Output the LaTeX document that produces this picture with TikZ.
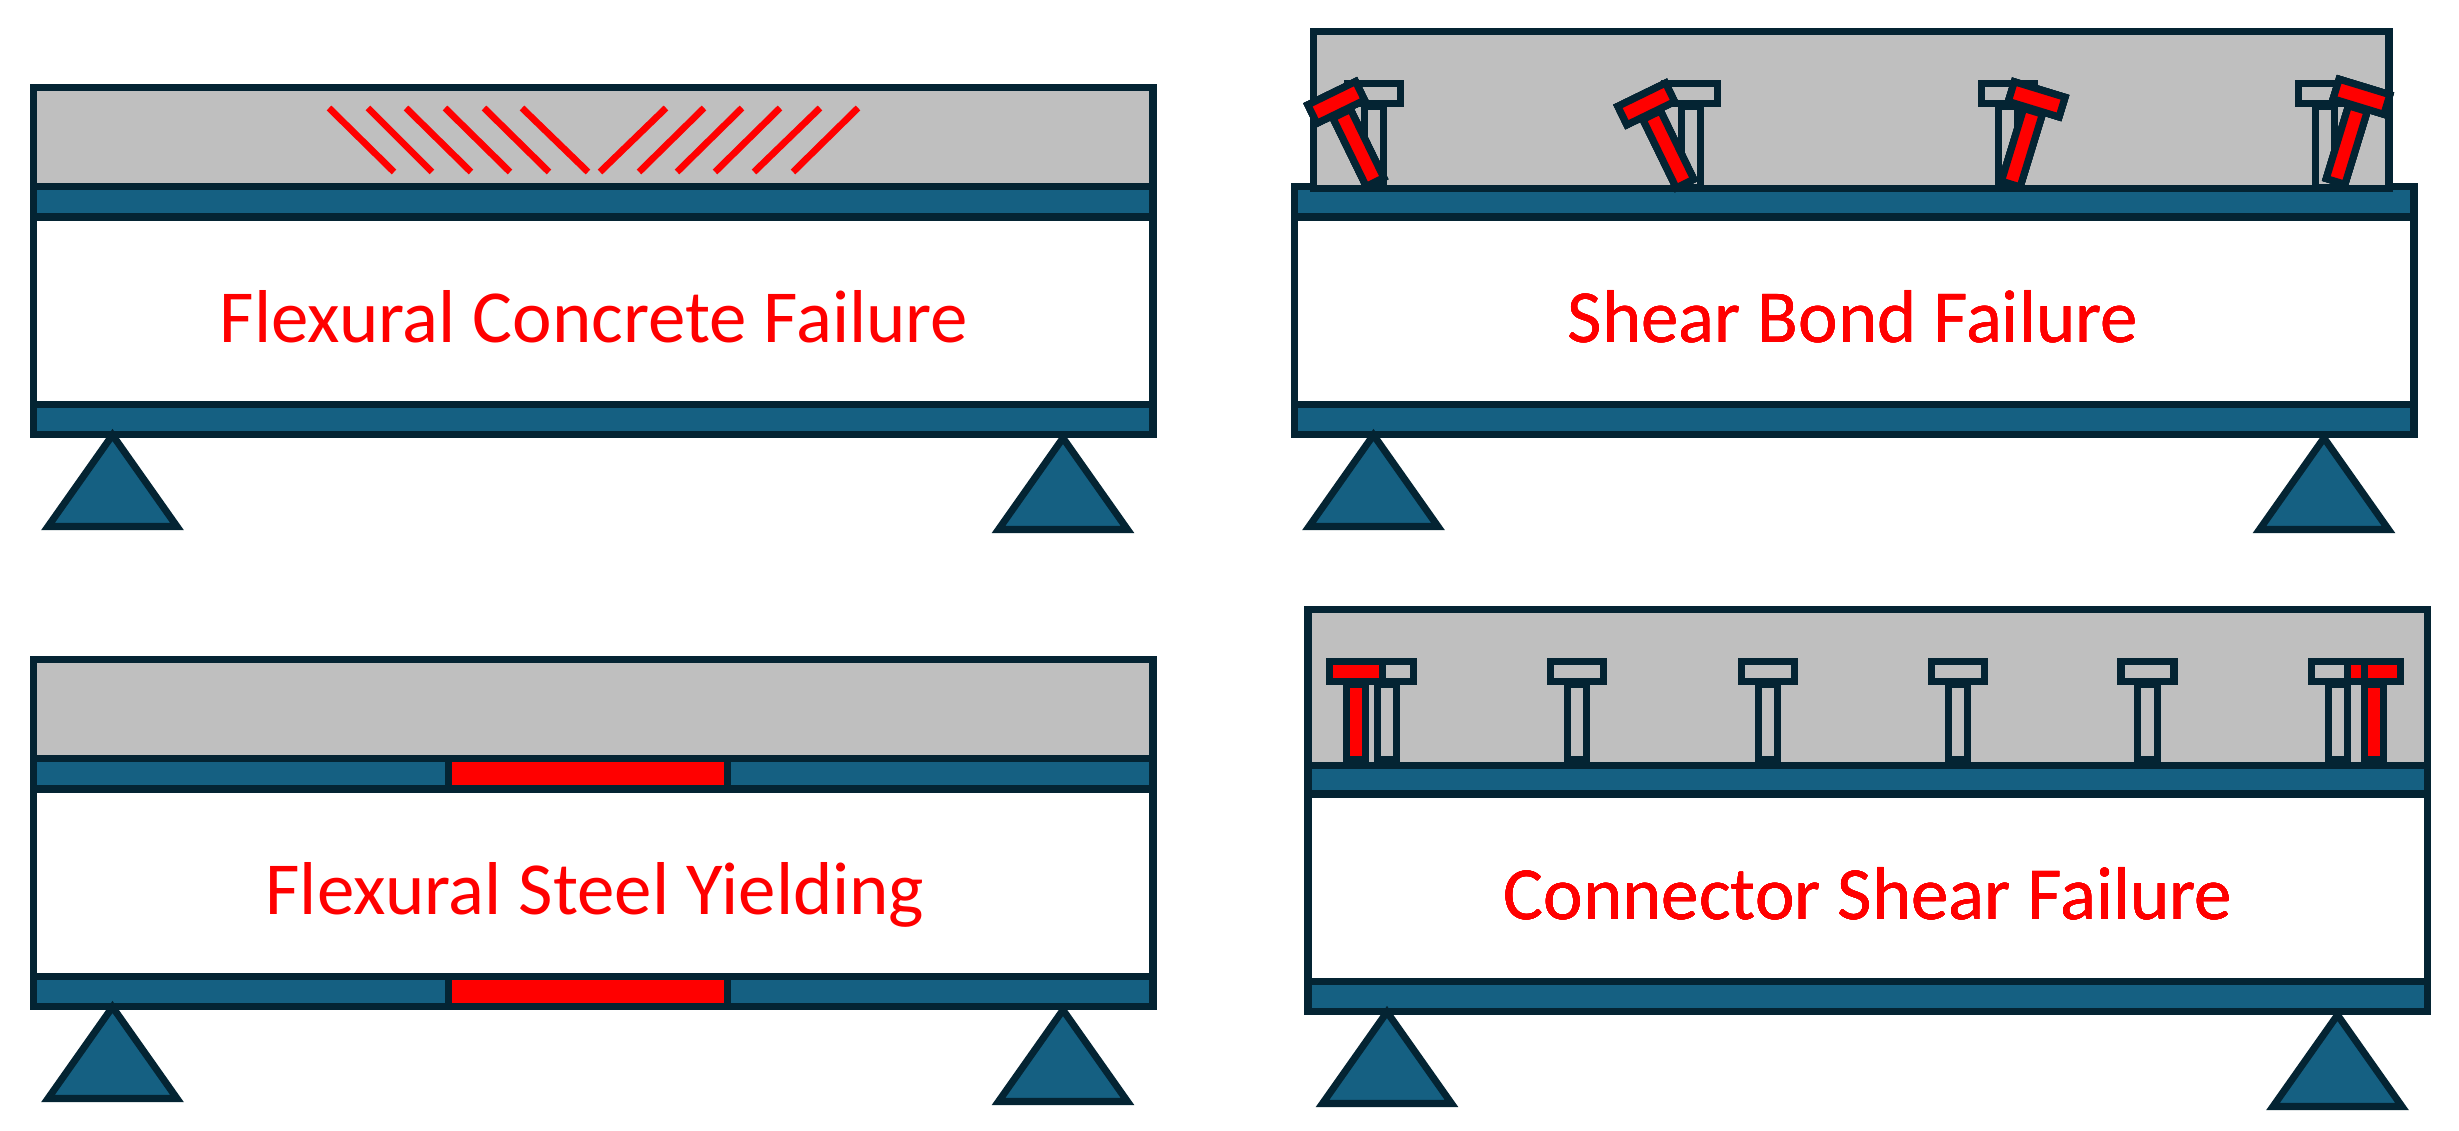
\documentclass[tikz,border=0pt]{standalone}
\usepackage{fontspec}
\setmainfont{Carlito}
\definecolor{steelblue}{HTML}{156082}
\definecolor{darkline}{HTML}{042433}
\definecolor{concrete}{HTML}{BFBFBF}
\tikzset{
    outline/.style={draw=darkline, line width=2pt},
    slab/.style={outline, fill=concrete},
    flange/.style={outline, fill=steelblue},
    yielded/.style={outline, fill=red},
    web/.style={outline, fill=white},
    crack/.style={red, line width=1.9pt},
    studgrey/.style={outline},
    studred/.style={outline, fill=red},
    failtext/.style={red, font=\fontsize{21.3}{24}\selectfont, anchor=base, inner sep=0pt}
}
% base x, base y, rotation, shank length, style
\newcommand{\stud}[5]{
    \begin{scope}[shift={(#1,#2)}, rotate=#3]
        \draw[#5] (-9.75,0) rectangle (9.75,-#4);
        \draw[#5] (-26.5,-#4-2.25) rectangle (26.5,-#4-22.75);
    \end{scope}
}
% apex x, base y
\newcommand{\support}[2]{
    \draw[flange] (#1,#2-91.5) -- (#1+64.5,#2) -- (#1-64.5,#2) -- cycle;
}
% x shift, y shift: steel beam with its two supports
\newcommand{\girder}[2]{
    \begin{scope}[shift={(#1,#2)}]
        \draw[web] (33.5,217) rectangle (1153,404.5);
        \draw[flange] (33.5,186.5) rectangle (1153,217);
        \draw[flange] (33.5,404.5) rectangle (1153,434.5);
        \support{112.5}{526.5}
        \support{1063}{529.5}
    \end{scope}
}
\begin{document}
\begin{tikzpicture}[x=0.01cm, y=-0.01cm]
    \useasboundingbox (0,0) rectangle (2459,1131);
    % flexural concrete failure
    \girder{0}{0}
    \draw[slab] (33.5,87.5) rectangle (1153,186.5);
    \foreach \xa/\xb in {329/394, 368/432, 406/471, 445/510, 484/549, 522/588, 666/600, 704/639, 742/677, 780/715, 820/754, 858/793}
        \draw[crack] (\xa,108) -- (\xb,172);
    \node[failtext] (concretetext) at (594,343) {Flexural Concrete Failure};
    % shear bond failure
    \girder{1261}{0}
    \draw[slab] (1313.5,31.5) rectangle (2389,188.5);
    \foreach \x in {1374, 1691, 2008, 2325}
        \stud{\x}{188}{0}{82}{studgrey}
    \stud{1375}{182}{26}{76}{studred}
    \stud{1685}{183.5}{26}{76}{studred}
    \stud{2010.8}{184}{-17}{76}{studred}
    \stud{2335.6}{181.4}{-17}{76}{studred}
    \node[failtext] (bondtext) at (1853,343) {Shear Bond Failure};
    % flexural steel yielding
    \girder{0}{572}
    \draw[slab] (33.5,659.5) rectangle (1153,758.5);
    \draw[yielded] (448.5,758.5) rectangle (727.5,789);
    \draw[yielded] (448.5,976.5) rectangle (727.5,1006.5);
    \node[failtext] (steeltext) at (595,915) {Flexural Steel Yielding};
    % connector shear failure
    \girder{1274.5}{577}
    \draw[slab] (1308,609.5) rectangle (2427.5,765.5);
    \stud{2374}{759.5}{0}{75.5}{studred}
    \foreach \x in {1387, 1577, 1768, 1958, 2147.5, 2338}
        \stud{\x}{759.5}{0}{75.5}{studgrey}
    \stud{1356}{759.5}{0}{75.5}{studred}
    \node[failtext] (connectortext) at (1868,920) {Connector Shear Failure};
\end{tikzpicture}
\end{document}
